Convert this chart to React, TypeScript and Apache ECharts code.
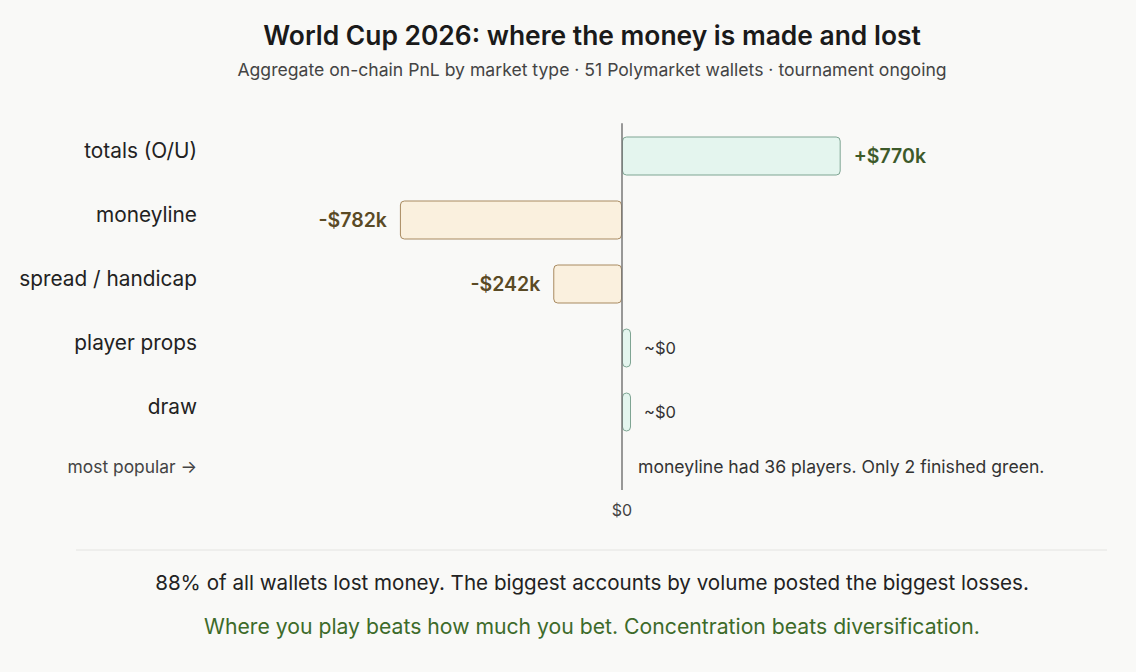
import React, { useEffect, useRef } from "react";
import * as echarts from "echarts";

const categories = ["totals (O/U)", "moneyline", "spread / handicap", "player props", "draw", "most popular →"];
const pnlK = [770, -782, -242, 0, 0, 0];
const isNote = [false, false, false, false, false, true];
const noteText = "moneyline had 36 players. Only 2 finished green.";
const titleText = "World Cup 2026: where the money is made and lost";
const subtitleText = "Aggregate on-chain PnL by market type · 51 Polymarket wallets · tournament ongoing";
const footer1 = "88% of all wallets lost money. The biggest accounts by volume posted the biggest losses.";
const footer2 = "Where you play beats how much you bet. Concentration beats diversification.";
const zeroLineExtent = [-0.5625, 5.21875];

const FONT = 'Inter, "Open Sans", sans-serif';

function fmt(v: number) {
  if (v === 0) return "~$0";
  return (v > 0 ? "+" : "-") + "$" + Math.abs(v) + "k";
}

export default function App() {
  const ref = useRef<HTMLDivElement>(null);
  useEffect(() => {
    document.body.style.margin = "0";
    document.body.style.background = "#f9f9f7";
    const chart = echarts.init(ref.current!, null, { renderer: "svg" });
    const data = pnlK.map((v, i) => {
      if (isNote[i]) {
        return {
          value: v,
          itemStyle: { color: "transparent", borderWidth: 0 },
          label: {
            show: true,
            position: "right",
            distance: 7,
            offset: [0, -10],
            formatter: noteText,
            fontSize: 17.6,
            color: "#333",
            fontWeight: 400,
          },
        };
      }
      const pos = v >= 0;
      const zero = v === 0;
      return {
        value: v,
        itemStyle: {
          color: pos ? "#e4f5ee" : "#faf0de",
          borderColor: pos ? "#7fa593" : "#a88a60",
          borderWidth: 1,
          borderRadius: 4,
        },
        label: {
          show: true,
          position: pos ? "right" : "left",
          distance: 13,
          formatter: fmt(v),
          fontSize: zero ? 16.5 : 19.5,
          fontWeight: zero ? 400 : 600,
          color: zero ? "#333" : pos ? "#3d5a2a" : "#5a4a25",
        },
      };
    });
    chart.setOption({
      animation: false,
      backgroundColor: "#f9f9f7",
      textStyle: { fontFamily: FONT },
      grid: { left: 196, right: 31.2, top: 124, height: 384, containLabel: false },
      xAxis: {
        type: "value",
        min: -1500,
        max: 1700,
        interval: 1500,
        axisLine: { show: false },
        axisTick: { show: false },
        splitLine: { show: false },
        axisLabel: {
          margin: -6,
          fontSize: 16,
          color: "#444",
          fontFamily: FONT,
          formatter: (v: number) => (v === 0 ? "$0" : ""),
        },
      },
      yAxis: [
        {
          type: "category",
          data: categories,
          inverse: true,
          axisLine: { show: false },
          axisTick: { show: false },
          axisLabel: {
            margin: -1,
            formatter: (v: string, i: number) => (isNote[i] ? "{m|" + v + "}" : "{c|" + v + "}"),
            rich: {
              c: { fontSize: 20.8, color: "#222", fontFamily: FONT, padding: [0, 0, 12, 0] },
              m: { fontSize: 17.4, color: "#444", fontFamily: FONT, padding: [0, 0, 20, 0] },
            },
          },
        },
        { type: "value", show: false, min: -0.5, max: 5.5, inverse: true },
      ],
      series: [
        {
          type: "bar",
          data,
          barWidth: 39,
          barMinHeight: 9,
          yAxisIndex: 0,
          silent: true,
        },
        {
          type: "line",
          yAxisIndex: 1,
          symbol: "none",
          silent: true,
          lineStyle: { color: "#777", width: 1.5 },
          data: [
            [0, zeroLineExtent[0]],
            [0, zeroLineExtent[1]],
          ],
          z: 5,
        },
      ],
      graphic: [
        {
          type: "text",
          x: 592,
          y: 35,
          style: { text: titleText, fontSize: 26.4, fontWeight: 600, fill: "#1a1a1a", fontFamily: FONT, align: "center", verticalAlign: "middle" },
        },
        {
          type: "text",
          x: 592,
          y: 69,
          style: { text: subtitleText, fontSize: 17.6, fill: "#444", fontFamily: FONT, align: "center", verticalAlign: "middle" },
        },
        {
          type: "line",
          shape: { x1: 76, y1: 550, x2: 1107, y2: 550 },
          style: { stroke: "#e4e4e1", lineWidth: 1 },
        },
        {
          type: "text",
          x: 592,
          y: 582,
          style: { text: footer1, fontSize: 20.6, fill: "#222", fontFamily: FONT, align: "center", verticalAlign: "middle" },
        },
        {
          type: "text",
          x: 592,
          y: 626,
          style: { text: footer2, fontSize: 21.2, fill: "#3d6b2a", fontFamily: FONT, align: "center", verticalAlign: "middle" },
        },
      ],
    });
    return () => chart.dispose();
  }, []);
  return <div ref={ref} style={{ width: 1136, height: 672 }} />;
}
